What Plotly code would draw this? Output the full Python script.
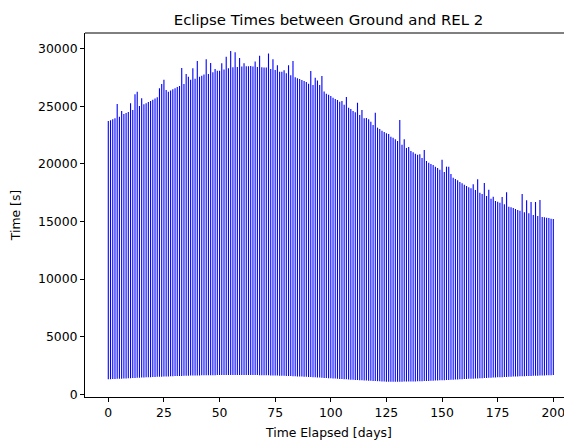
import plotly.graph_objects as go

days = list(range(0, 201))

eclipse_end = [
    23734, 23791, 23878, 23965, 25210, 24108, 24600, 24340, 24427, 24514,
    25268, 24688, 26049, 26280, 25035, 25702, 25181, 25268, 25384, 25470,
    25586, 25673, 25789, 26570, 26946, 27322, 26426, 26280, 26368, 26484,
    26570, 26686, 26773, 28336, 26946, 27815, 27583, 27322, 28310, 27409,
    28944, 27583, 27670, 27757, 29100, 27815, 28770, 27960, 28249, 28104,
    28104, 28741, 28191, 29300, 28307, 29800, 28394, 29700, 28423, 29200,
    28452, 28741, 28481, 28481, 28510, 28452, 28900, 28423, 29400, 28394,
    28365, 28365, 29600, 28249, 29100, 28162, 28568, 28017, 28017, 28133,
    27873, 28568, 27699, 28944, 27525, 27438, 27380, 27294, 27207, 27120,
    26975, 28075, 26859, 27496, 27236, 26859, 27641, 26281, 26107, 26020,
    25905, 25759, 25644, 25557, 25412, 25470, 25151, 25817, 24891, 24776,
    24602, 24486, 25325, 24254, 24689, 23965, 23994, 23878, 23675, 23386,
    24457, 23155, 23039, 22894, 22778, 22663, 22605, 22373, 22286, 22141,
    21997, 23820, 21678, 22150, 21389, 21476, 21128, 21013, 20896, 20810,
    20839, 20520, 21215, 20260, 20115, 19999, 19912, 19767, 19652, 19507,
    20375, 19305, 19767, 19767, 19131, 18812, 18697, 18581, 18436, 18321,
    18205, 18089, 17973, 17886, 18234, 17741, 18668, 17510, 17394, 18349,
    17220, 17770, 16988, 17162, 16786, 16728, 16641, 17134, 16497, 17539,
    16294, 16236, 16178, 16092, 16005, 15947, 17394, 15802, 16844, 15715,
    16699, 15570, 16699, 15484, 16873, 15397, 15368, 15339, 15310, 15252,
    15223,
]

eclipse_start = [
    1300, 1310, 1320, 1330, 1340, 1350, 1360, 1370, 1380, 1390,
    1400, 1410, 1420, 1430, 1440, 1450, 1460, 1470, 1480, 1490,
    1500, 1508, 1516, 1524, 1532, 1540, 1548, 1556, 1564, 1572,
    1580, 1586, 1592, 1598, 1604, 1610, 1616, 1622, 1628, 1634,
    1640, 1643, 1646, 1649, 1652, 1655, 1658, 1661, 1664, 1667,
    1670, 1671, 1672, 1673, 1674, 1675, 1676, 1677, 1678, 1679,
    1680, 1678, 1676, 1674, 1672, 1670, 1668, 1666, 1664, 1662,
    1660, 1654, 1648, 1642, 1636, 1630, 1624, 1618, 1612, 1606,
    1600, 1591, 1582, 1573, 1564, 1555, 1546, 1537, 1528, 1519,
    1510, 1498, 1486, 1474, 1462, 1450, 1438, 1426, 1414, 1402,
    1390, 1377, 1364, 1351, 1338, 1325, 1312, 1299, 1286, 1273,
    1260, 1249, 1238, 1227, 1216, 1205, 1194, 1183, 1172, 1161,
    1150, 1140, 1130, 1120, 1110, 1100, 1098, 1096, 1094, 1092,
    1090, 1094, 1098, 1102, 1106, 1110, 1114, 1118, 1122, 1126,
    1130, 1139, 1148, 1157, 1166, 1175, 1184, 1193, 1202, 1211,
    1220, 1230, 1240, 1250, 1260, 1270, 1280, 1290, 1300, 1310,
    1320, 1330, 1340, 1350, 1360, 1370, 1380, 1390, 1400, 1410,
    1420, 1430, 1440, 1450, 1460, 1470, 1480, 1490, 1500, 1510,
    1520, 1528, 1536, 1544, 1552, 1560, 1568, 1576, 1584, 1592,
    1600, 1607, 1614, 1621, 1628, 1635, 1642, 1649, 1656, 1663,
    1670,
]

x_ticks = [0, 25, 50, 75, 100, 125, 150, 175, 200]
y_ticks = [0, 5000, 10000, 15000, 20000, 25000, 30000]

xs, ys = [], []
for d, lo, hi in zip(days, eclipse_start, eclipse_end):
    xs += [d, d, None]
    ys += [lo, hi, None]

fig = go.Figure()
fig.add_trace(go.Scatter(x=xs, y=ys, mode="lines",
                         line=dict(color="#0000ff", width=1.1),
                         hoverinfo="skip", showlegend=False))

W, H = 564, 433  # page body adds an 8px margin at left/top
PLOT_H = 364
font = "DejaVu Sans, sans-serif"
fig.update_layout(
    width=W, height=H,
    margin=dict(l=77, r=0, t=25, b=44),
    paper_bgcolor="white", plot_bgcolor="white",
    font=dict(family=font, size=12.4, color="black"),
    title=dict(text="Eclipse Times between Ground and REL 2",
               x=0.5, xref="paper", y=1 - 12 / H, yanchor="middle",
               font=dict(size=14.9, color="black")),
    showlegend=False,
)
fig.update_xaxes(
    range=[-10.47, 208.4], tickvals=x_ticks, ticktext=[str(v) for v in x_ticks],
    showgrid=False, zeroline=False, showline=True, linecolor="black", linewidth=1,
    ticks="outside", ticklen=4, tickcolor="black", tickwidth=1,
    automargin=False,
)
fig.update_yaxes(
    range=[-234, 31371], tickvals=y_ticks, ticktext=[str(v) for v in y_ticks],
    showgrid=False, zeroline=False, showline=True, linecolor="black", linewidth=1,
    ticks="outside", ticklen=4, tickcolor="black", tickwidth=1,
    title=dict(text="Time [s]", standoff=19, font=dict(size=12.4)),
    automargin=False,
)
fig.add_annotation(text="Time Elapsed [days]", xref="paper", yref="paper",
                   x=0.5 - 0.5 * (0), y=-(424 - 389) / PLOT_H,
                   xanchor="center", yanchor="middle", showarrow=False,
                   font=dict(size=12.4, color="black"))
fig.add_shape(type="line", xref="paper", yref="paper", x0=0, x1=1, y0=1, y1=1,
              line=dict(color="black", width=1))

fig.write_html("out.html")
